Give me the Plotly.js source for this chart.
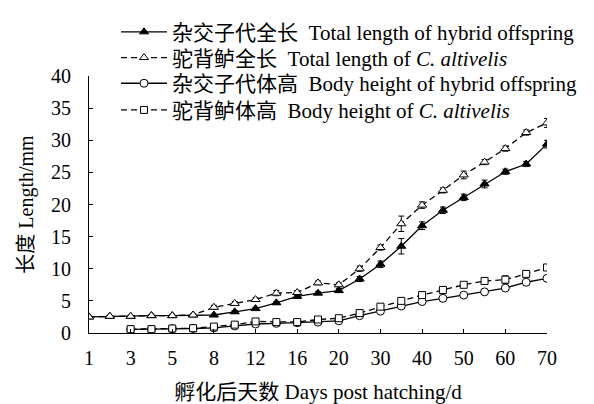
<!DOCTYPE html>
<html><head><meta charset="utf-8">
<script src="https://cdn.plot.ly/plotly-3.0.1.min.js"></script>
<style>html,body{margin:0;padding:0;background:#fff}</style>
</head><body><div id="chart" style="width:594px;height:404px"></div>
<script>
const days = ['1','2','3','4','5','6','8','10','12','14','16','18','20','25','30','35','40','45','50','55','60','65','70'];
const tickLabels = ['1','3','5','8','12','16','20','30','40','50','60','70'];
const totalHybrid = [2.5,2.6,2.6,2.7,2.7,2.8,2.8,3.3,3.8,4.7,5.7,6.2,6.6,8.4,10.7,13.5,16.7,19.1,21.1,23.2,25.1,26.3,29.4];
const totalHybridErr = [0.1,0.1,0.1,0.1,0.1,0.1,0.1,0.2,0.2,0.2,0.3,0.2,0.3,0.4,0.5,1.2,0.6,0.5,0.5,0.6,0.4,0.4,0.6];
const totalAlt = [2.5,2.6,2.6,2.7,2.7,2.8,4.0,4.6,5.2,6.2,6.3,7.8,7.5,10.0,13.3,17.0,19.9,22.2,24.6,26.6,28.7,31.2,32.7];
const totalAltErr = [0.1,0.1,0.1,0.1,0.1,0.1,0.3,0.3,0.3,0.4,0.3,0.3,0.3,0.4,0.4,1.2,0.5,0.4,0.6,0.4,0.4,0.4,0.7];
const heightHybrid = [null,null,0.55,0.55,0.65,0.7,0.8,1.1,1.4,1.5,1.6,1.7,1.9,2.7,3.4,4.2,4.9,5.4,5.9,6.4,7.0,7.9,8.5];
const heightHybridErr = [0,0,0.1,0.1,0.1,0.1,0.2,0.2,0.4,0.2,0.2,0.2,0.2,0.3,0.3,0.3,0.3,0.2,0.2,0.2,0.3,0.2,0.2];
const heightAlt = [null,null,0.6,0.6,0.7,0.75,1.0,1.3,1.8,1.7,1.7,2.1,2.3,3.1,4.1,5.0,5.9,6.7,7.5,8.1,8.3,9.2,10.2];
const heightAltErr = [0,0,0.1,0.1,0.2,0.2,0.3,0.3,0.3,0.3,0.3,0.3,0.3,0.3,0.3,0.4,0.4,0.3,0.3,0.3,0.6,0.3,0.3];

const names = [
  '杂交子代全长\u00a0\u00a0Total length of hybrid offspring',
  '驼背鲈全长\u00a0\u00a0Total length of <i>C. altivelis</i>',
  '杂交子代体高\u00a0\u00a0Body height of hybrid offspring',
  '驼背鲈体高\u00a0\u00a0Body height of <i>C. altivelis</i>'
];
function tr(y, err, name, dash, symbol, fill, leg){
  return {
    x: days, y: y, name: name, type: 'scatter', mode: 'lines+markers', legend: leg,
    line: {color: '#000', width: 1.3, dash: dash},
    marker: {symbol: symbol, size: symbol === 'square' ? 7 : 8, color: fill, line: {color: '#000', width: 1}},
    error_y: {type: 'data', array: err, visible: true, color: '#000', thickness: 1, width: 3},
    connectgaps: false
  };
}
const data = [
  tr(totalHybrid, totalHybridErr, names[0], 'solid', 'triangle-up', '#000', 'legend'),
  tr(totalAlt, totalAltErr, names[1], '6px,4px', 'triangle-up', '#fff', 'legend2'),
  tr(heightHybrid, heightHybridErr, names[2], 'solid', 'circle', '#fff', 'legend3'),
  tr(heightAlt, heightAltErr, names[3], '6px,4px', 'square', '#fff', 'legend4')
];
const fam = '"Liberation Serif", "Times New Roman", "Noto Sans CJK SC", serif';
const font = {family: fam, size: 20, color: '#000'};
const legFont = {family: fam, size: 21, color: '#000'};
function leg(ypix){
  return {x: 0.059, xanchor: 'left', y: (333 - ypix) / 270, yanchor: 'middle',
          bgcolor: 'rgba(0,0,0,0)', font: legFont, itemwidth: 46, borderwidth: 0};
}
const layout = {
  width: 594, height: 404,
  margin: {l: 89, r: 45, t: 63, b: 71},
  paper_bgcolor: '#fff', plot_bgcolor: '#fff',
  font: font,
  showlegend: true,
  legend: leg(17), legend2: leg(44), legend3: leg(71), legend4: leg(99),
  xaxis: {
    type: 'category', categoryorder: 'array', categoryarray: days,
    range: [0, 22], tickmode: 'array', tickvals: tickLabels, ticktext: tickLabels,
    ticks: 'inside', ticklen: 4, tickcolor: '#000', tickwidth: 1,
    showline: true, linecolor: '#000', linewidth: 1, showgrid: false, zeroline: false,
    ticklabelstandoff: 7,
    title: {text: '孵化后天数 Days post hatching/d', font: {family: fam, size: 21, color: '#000'}, standoff: 18},
    automargin: false
  },
  yaxis: {
    range: [0, 40], dtick: 5, tick0: 0,
    ticks: 'inside', ticklen: 4, tickcolor: '#000', tickwidth: 1,
    showline: true, linecolor: '#000', linewidth: 1, showgrid: false, zeroline: false,
    ticklabelstandoff: 13,
    title: {text: '长度 Length/mm', font: font, standoff: 12},
    automargin: false
  }
};
Plotly.newPlot('chart', data, layout, {displayModeBar: false, staticPlot: true});
</script>
</body></html>
